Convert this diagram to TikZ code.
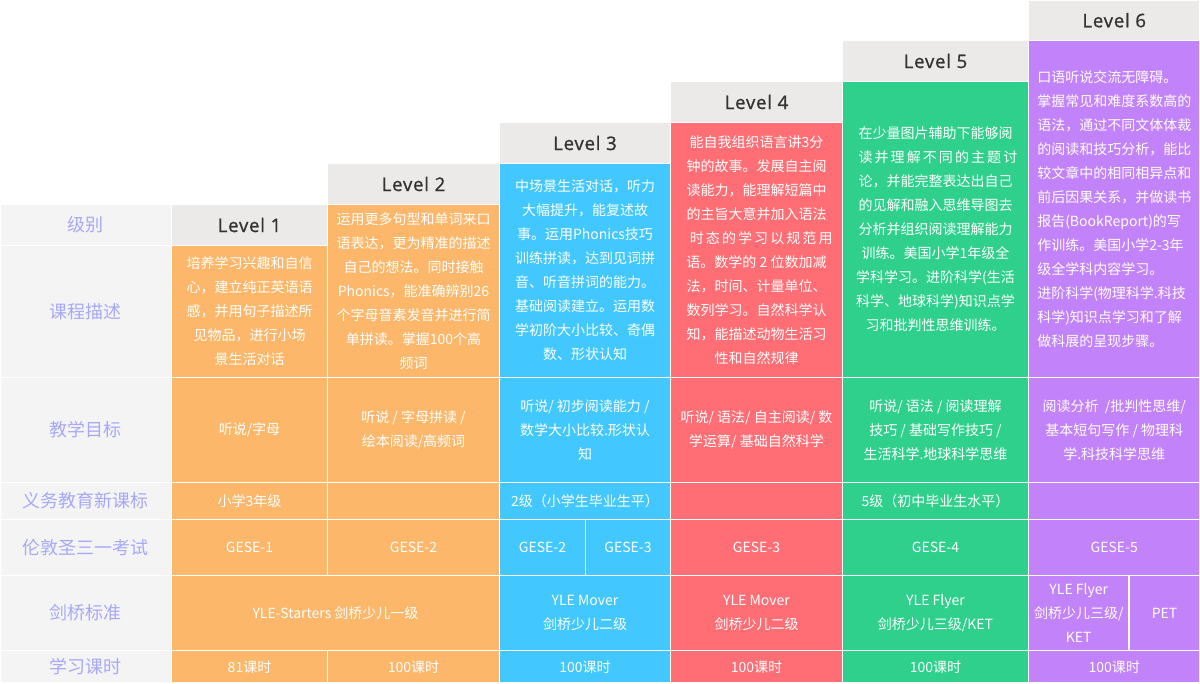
\documentclass[tikz,border=0pt]{standalone}
\usepackage{fontspec}
\setmainfont{Noto Sans CJK SC}
\newfontfamily\hdfont[FakeBold=1,LetterSpace=4]{Open Sans}
\definecolor{cOr}{HTML}{FDB76A}
\definecolor{cBl}{HTML}{42C8FE}
\definecolor{cRd}{HTML}{FF6E74}
\definecolor{cGn}{HTML}{2ED08B}
\definecolor{cPu}{HTML}{C282FA}
\definecolor{cLab}{HTML}{F4F4F4}
\definecolor{cHd}{HTML}{EBEAE8}
\definecolor{cLabTxt}{HTML}{A8A8F7}
\definecolor{cHdTxt}{HTML}{333333}
\tikzset{
  cellbox/.style={inner sep=0pt, draw=white, line width=1.2pt},
  body/.style={cellbox, text=white, align=center, font=\fontsize{10.5}{18}\selectfont},
  bodyl/.style={body, align=left},
  labcell/.style={cellbox, fill=cLab, text=cLabTxt, font=\fontsize{13.5}{16}\selectfont},
  hdcell/.style={cellbox, fill=cHd, text=cHdTxt, font=\hdfont\fontsize{14}{16}\selectfont},
}
\newcommand\mycell[6]{%
  \pgfmathsetmacro\mcx{(#2+#4)/2}%
  \pgfmathsetmacro\mcy{(#3+#5)/2}%
  \pgfmathsetmacro\mcw{(#4-#2)*0.75}%
  \pgfmathsetmacro\mch{(#5-#3)*0.75}%
  \node[#1, minimum width=\mcw pt, minimum height=\mch pt] at (\mcx,\mcy) {#6};}
\begin{document}
\begin{tikzpicture}[x=0.75pt,y=-0.75pt]
\useasboundingbox (0,0) rectangle (1200,683);
\fill[white] (0,0) rectangle (1200,683);
% headers
\mycell{hdcell,name=h1}{171.5}{204.5}{327.5}{245.5}{Level 1}
\mycell{hdcell,name=h2}{327.5}{163.5}{499.5}{204.5}{Level 2}
\mycell{hdcell,name=h3}{499.5}{122.5}{670.5}{163.5}{Level 3}
\mycell{hdcell,name=h4}{670.5}{81.5}{842.5}{122.5}{Level 4}
\mycell{hdcell,name=h5}{842.5}{40.5}{1028.5}{81.5}{Level 5}
\mycell{hdcell,name=h6}{1028.5}{0}{1200}{40.5}{Level 6}
% labels
\mycell{labcell,name=l0}{0}{204.5}{171.5}{245.5}{级别}
\mycell{labcell,name=l1}{0}{245.5}{171.5}{377.5}{课程描述}
\mycell{labcell,name=l2}{0}{377.5}{171.5}{482.5}{教学目标}
\mycell{labcell,name=l3}{0}{482.5}{171.5}{519.5}{义务教育新课标}
\mycell{labcell,name=l4}{0}{519.5}{171.5}{575.5}{伦敦圣三一考试}
\mycell{labcell,name=l5}{0}{575.5}{171.5}{650.5}{剑桥标准}
\mycell{labcell,name=l6}{0}{650.5}{171.5}{683}{学习课时}
% descriptions
\mycell{body,fill=cOr,name=d1}{171.5}{245.5}{327.5}{377.5}{培养学习兴趣和自信\\心，建立纯正英语语\\感，并用句子描述所\\见物品，进行小场\\景生活对话}
\mycell{body,fill=cOr,name=d2}{327.5}{204.5}{499.5}{377.5}{运用更多句型和单词来口\\语表达，更为精准的描述\\自己的想法。同时接触\\Phonics，能准确辨别26\\个字母音素发音并进行简\\单拼读。掌握100个高\\频词}
\mycell{body,fill=cBl,name=d3}{499.5}{163.5}{670.5}{377.5}{中场景生活对话，听力\\大幅提升，能复述故\\事。运用Phonics技巧\\训练拼读，达到见词拼\\音、听音拼词的能力。\\基础阅读建立。运用数\\学初阶大小比较、奇偶\\数、形状认知}
\mycell{body,fill=cRd,name=d4}{670.5}{122.5}{842.5}{377.5}{能自我组织语言讲3分\\钟的故事。发展自主阅\\读能力，能理解短篇中\\的主旨大意并加入语法\\\makebox[100pt][s]{时 态 的 学 习 以 规 范 用}\\语。数学的 2 位数加减\\法，时间、计量单位、\\数列学习。自然科学认\\知，能描述动物生活习\\性和自然规律}
\mycell{body,fill=cGn,name=d5}{842.5}{81.5}{1028.5}{377.5}{在少量图片辅助下能够阅\\\makebox[115.5pt][s]{读 并 理 解 不 同 的 主 题 讨}\\论，并能完整表达出自己\\的见解和融入思维导图去\\分析并组织阅读理解能力\\训练。美国小学1年级全\\学科学习。进阶科学(生活\\科学、地球科学)知识点学\\习和批判性思维训练。}
\mycell{bodyl,fill=cPu,name=d6}{1028.5}{40.5}{1200}{377.5}{口语听说交流无障碍。\\掌握常见和难度系数高的\\语法，通过不同文体体裁\\的阅读和技巧分析，能比\\较文章中的相同相异点和\\前后因果关系，并做读书\\报告(BookReport)的写\\作训练。美国小学2-3年\\级全学科内容学习。\\进阶科学(物理科学.科技\\科学)知识点学习和了解\\做科展的呈现步骤。}
% goals
\mycell{body,fill=cOr,name=g1}{171.5}{377.5}{327.5}{482.5}{听说/字母}
\mycell{body,fill=cOr,name=g2}{327.5}{377.5}{499.5}{482.5}{听说 / 字母拼读 /\\绘本阅读/高频词}
\mycell{body,fill=cBl,name=g3}{499.5}{377.5}{670.5}{482.5}{听说/ 初步阅读能力 /\\数学大小比较.形状认\\知}
\mycell{body,fill=cRd,name=g4}{670.5}{377.5}{842.5}{482.5}{听说/ 语法/ 自主阅读/ 数\\学运算/ 基础自然科学}
\mycell{body,fill=cGn,name=g5}{842.5}{377.5}{1028.5}{482.5}{听说/ 语法 / 阅读理解\\技巧 / 基础写作技巧 /\\生活科学.地球科学思维}
\mycell{body,fill=cPu,name=g6}{1028.5}{377.5}{1200}{482.5}{阅读分析 \ /批判性思维/\\基本短句写作 / 物理科\\学.科技科学思维}
% national standard
\mycell{body,fill=cOr,name=s1}{171.5}{482.5}{327.5}{519.5}{小学3年级}
\mycell{body,fill=cOr,name=s2}{327.5}{482.5}{499.5}{519.5}{}
\mycell{body,fill=cBl,name=s3}{499.5}{482.5}{670.5}{519.5}{2级（小学生毕业生平）}
\mycell{body,fill=cRd,name=s4}{670.5}{482.5}{842.5}{519.5}{}
\mycell{body,fill=cGn,name=s5}{842.5}{482.5}{1028.5}{519.5}{5级（初中毕业生水平）}
\mycell{body,fill=cPu,name=s6}{1028.5}{482.5}{1200}{519.5}{}
% Trinity exams
\mycell{body,fill=cOr,name=e1}{171.5}{519.5}{327.5}{575.5}{GESE-1}
\mycell{body,fill=cOr,name=e2}{327.5}{519.5}{499.5}{575.5}{GESE-2}
\mycell{body,fill=cBl,name=e3a}{499.5}{519.5}{585.5}{575.5}{GESE-2}
\mycell{body,fill=cBl,name=e3b}{585.5}{519.5}{670.5}{575.5}{GESE-3}
\mycell{body,fill=cRd,name=e4}{670.5}{519.5}{842.5}{575.5}{GESE-3}
\mycell{body,fill=cGn,name=e5}{842.5}{519.5}{1028.5}{575.5}{GESE-4}
\mycell{body,fill=cPu,name=e6}{1028.5}{519.5}{1200}{575.5}{GESE-5}
% Cambridge
\mycell{body,fill=cOr,name=c12}{171.5}{575.5}{499.5}{650.5}{YLE-Starters 剑桥少儿一级}
\mycell{body,fill=cBl,name=c3}{499.5}{575.5}{670.5}{650.5}{YLE Mover\\剑桥少儿二级}
\mycell{body,fill=cRd,name=c4}{670.5}{575.5}{842.5}{650.5}{YLE Mover\\剑桥少儿二级}
\mycell{body,fill=cGn,name=c5}{842.5}{575.5}{1028.5}{650.5}{YLE Flyer\\剑桥少儿三级/KET}
\mycell{body,fill=cPu,name=c6a}{1028.5}{575.5}{1129}{650.5}{YLE Flyer\\剑桥少儿三级/\\KET}
\mycell{body,fill=cPu,name=c6b}{1129}{575.5}{1200}{650.5}{PET}
% hours
\mycell{body,fill=cOr,name=t1}{171.5}{650.5}{327.5}{683}{81课时}
\mycell{body,fill=cOr,name=t2}{327.5}{650.5}{499.5}{683}{100课时}
\mycell{body,fill=cBl,name=t3}{499.5}{650.5}{670.5}{683}{100课时}
\mycell{body,fill=cRd,name=t4}{670.5}{650.5}{842.5}{683}{100课时}
\mycell{body,fill=cGn,name=t5}{842.5}{650.5}{1028.5}{683}{100课时}
\mycell{body,fill=cPu,name=t6}{1028.5}{650.5}{1200}{683}{100课时}
\end{tikzpicture}
\end{document}
